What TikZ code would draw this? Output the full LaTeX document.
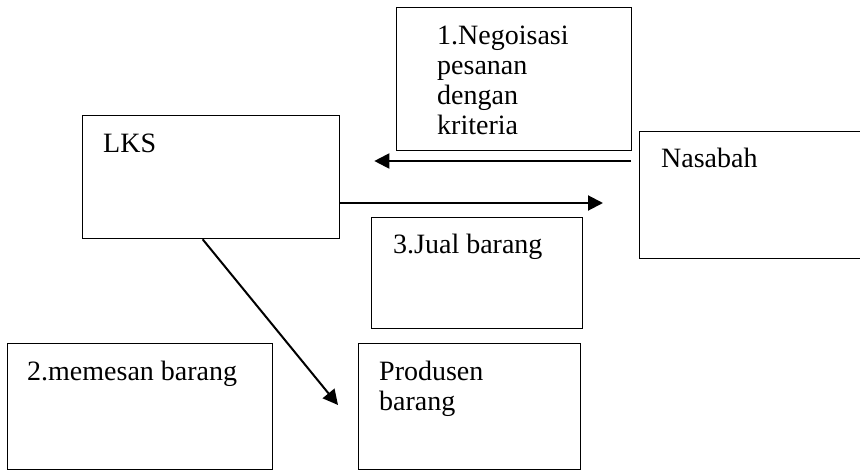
\documentclass[tikz,border=0pt]{standalone}
\usepackage{fontspec}
\setmainfont{Liberation Serif}
\usetikzlibrary{arrows.meta,positioning,calc}
\tikzset{
  kotak/.style={draw,line width=1.3pt,inner sep=0pt,anchor=north west},
  teks/.style={inner sep=0pt,anchor=base west,align=left,font=\fontsize{28}{30}\selectfont},
  panah/.style={-{Triangle[length=15pt,width=15pt]},line width=2pt}
}
\begin{document}
\begin{tikzpicture}[x=1pt,y=-1pt]
  \useasboundingbox (0,0) rectangle (860,471);
  \node[kotak,minimum width=235pt,minimum height=143pt] (nego) at (396,7) {};
  \node[kotak,minimum width=257pt,minimum height=123pt] (lks) at (82,115) {};
  \node[kotak,minimum width=225pt,minimum height=127pt] (nasabah) at (639,131) {};
  \node[kotak,minimum width=211pt,minimum height=111pt] (jual) at (371,217) {};
  \node[kotak,minimum width=265pt,minimum height=126pt] (pesan) at (7,343) {};
  \node[kotak,minimum width=222pt,minimum height=126pt] (produsen) at (358,343) {};
  % isi kotak (base = baris terakhir)
  \node[teks] (negoT) at ([shift={(41pt,-127pt)}]nego.north west) {1.Negoisasi\\pesanan\\dengan\\kriteria};
  \node[teks] (lksT) at ([shift={(21pt,-37pt)}]lks.north west) {LKS};
  \node[teks] (nasabahT) at ([shift={(22pt,-36pt)}]nasabah.north west) {Nasabah};
  \node[teks] (jualT) at ([shift={(22pt,-36pt)}]jual.north west) {3.Jual barang};
  \node[teks] (pesanT) at ([shift={(20pt,-37pt)}]pesan.north west) {2.memesan barang};
  \node[teks] (produsenT) at ([shift={(21pt,-67pt)}]produsen.north west) {Produsen\\barang};
  % panah
  \draw[panah,shorten <=8pt,shorten >=34pt] (nasabah.west |- 0,161) -- (lks.east |- 0,161);
  \draw[panah,shorten >=36pt] (lks.east |- 0,203) -- (nasabah.west |- 0,203);
  \draw[panah] ([xshift=-8.5pt]lks.south) -- ([shift={(-20pt,-62pt)}]produsen.north west);
\end{tikzpicture}
\end{document}
